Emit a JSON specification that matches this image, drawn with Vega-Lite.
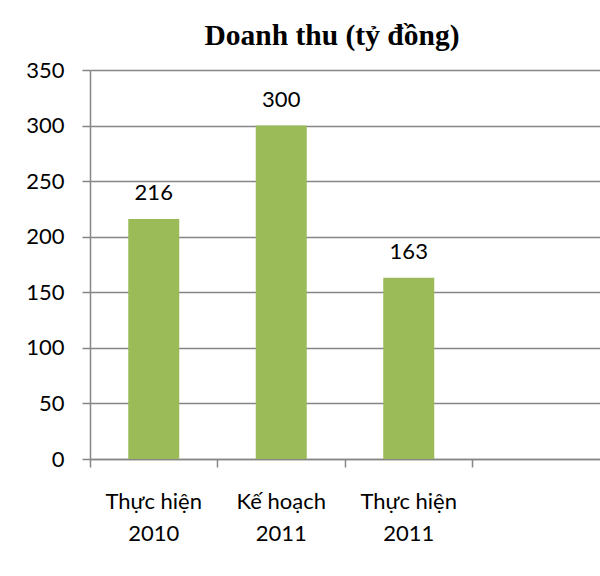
{
  "$schema": "https://vega.github.io/schema/vega-lite/v6.json",
  "autosize": "none",
  "width": 510,
  "height": 389,
  "padding": {"left": 90, "top": 70, "right": 0, "bottom": 117},
  "background": "white",
  "title": {
    "text": "Doanh thu (tỷ đồng)",
    "font": "Liberation Serif",
    "fontSize": 29.5,
    "fontWeight": "bold",
    "color": "black",
    "baseline": "alphabetic",
    "dx": -13,
    "dy": 19,
    "offset": 4
  },
  "data": {
    "values": [
      {"category": "Thực hiện 2010", "value": 216},
      {"category": "Kế hoạch 2011", "value": 300},
      {"category": "Thực hiện 2011", "value": 163}
    ]
  },
  "config": {
    "view": {"stroke": null},
    "axis": {
      "labelFont": "Lato",
      "labelFontSize": 22,
      "labelColor": "black",
      "domainColor": "#868686",
      "domainWidth": 1.5,
      "tickColor": "#868686",
      "tickWidth": 1.5,
      "tickSize": 8,
      "gridColor": "#868686",
      "gridWidth": 1.5,
      "title": null
    }
  },
  "encoding": {
    "x": {
      "field": "category",
      "type": "nominal",
      "sort": null,
      "scale": {
        "domain": ["Thực hiện 2010", "Kế hoạch 2011", "Thực hiện 2011", "-"],
        "paddingInner": 0.6,
        "paddingOuter": 0.3
      },
      "axis": {
        "labelAngle": 0,
        "bandPosition": -0.75,
        "grid": false,
        "labelPadding": 24,
        "labelLineHeight": 32,
        "labelExpr": "datum.value == '-' ? '' : [slice(datum.value, 0, -5), slice(datum.value, -4)]"
      }
    },
    "y": {
      "field": "value",
      "type": "quantitative",
      "scale": {"domain": [0, 350], "nice": false},
      "axis": {
        "values": [0, 50, 100, 150, 200, 250, 300, 350],
        "labelPadding": 18,
        "grid": true
      }
    }
  },
  "layer": [
    {"mark": {"type": "bar", "color": "#9BBB59"}},
    {
      "mark": {"type": "text", "font": "Lato", "fontSize": 22, "color": "black", "baseline": "alphabetic", "dy": -19},
      "encoding": {"text": {"field": "value", "type": "quantitative"}}
    }
  ]
}
